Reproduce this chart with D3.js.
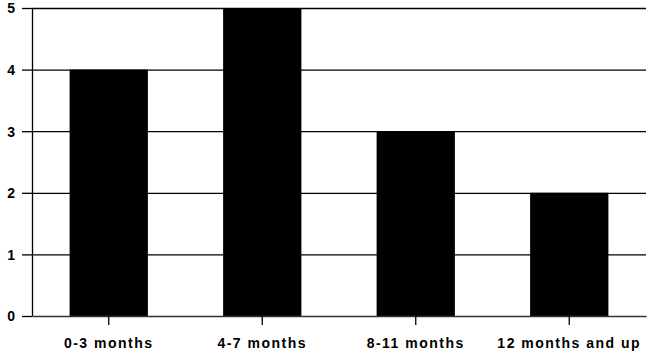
<!DOCTYPE html>
<html>
<head>
<meta charset="utf-8">
<script src="https://cdn.jsdelivr.net/npm/d3@7"></script>
<style>
  body { margin: 0; background: #fff; }
  svg text { font-family: "Liberation Sans", Arial, sans-serif; font-weight: bold; fill: #000; }
</style>
</head>
<body>
<svg id="chart"></svg>
<script>
const categories = ['0-3 months', '4-7 months', '8-11 months', '12 months and up'];
const counts = [4, 5, 3, 2];
const yTicks = [0, 1, 2, 3, 4, 5];

const width = 650, height = 353;
const margin = { top: 8, right: 4, bottom: 37, left: 32 };
const innerW = width - margin.left - margin.right;
const innerH = height - margin.top - margin.bottom;

const svg = d3.select('#chart').attr('width', width).attr('height', height);
const chart = svg.append('g').attr('transform', `translate(${margin.left},${margin.top})`);

const x = d3.scaleBand().domain(categories).range([0, innerW]).paddingInner(0.49).paddingOuter(0.245);
const y = d3.scaleLinear().domain([0, 5]).range([innerH, 0]);

// gridlines
chart.append('g').selectAll('line').data(yTicks.filter(d => d > 0)).enter().append('line')
  .attr('x1', 0).attr('x2', innerW)
  .attr('y1', d => y(d) + 0.5).attr('y2', d => y(d) + 0.5)
  .attr('stroke', '#000').attr('stroke-width', 1.3);

// bars
chart.append('g').selectAll('rect').data(categories).enter().append('rect')
  .attr('x', d => x(d))
  .attr('y', (d, i) => y(counts[i]))
  .attr('width', x.bandwidth())
  .attr('height', (d, i) => innerH - y(counts[i]))
  .attr('fill', '#000');

// y axis
const yAxis = d3.axisLeft(y).tickValues(yTicks).tickFormat(d3.format('d')).tickSize(10).tickSizeOuter(0).tickPadding(7);
const yAxisG = chart.append('g').call(yAxis);
yAxisG.select('.domain').attr('stroke', '#000').attr('stroke-width', 1.3);
yAxisG.selectAll('.tick line').attr('stroke', '#000').attr('stroke-width', 1.3);
yAxisG.selectAll('text').style('font-size', '14px').attr('dy', '0.35em');

// x axis
const xAxis = d3.axisBottom(x).tickSize(9).tickSizeOuter(0).tickPadding(13);
const xAxisG = chart.append('g').attr('transform', `translate(0,${innerH})`).call(xAxis);
xAxisG.select('.domain').attr('stroke', '#333').attr('stroke-width', 1.3);
xAxisG.selectAll('.tick line').attr('stroke', '#000').attr('stroke-width', 1.3);
xAxisG.selectAll('text').style('font-size', '14px').style('letter-spacing', '1.5px');
</script>
</body>
</html>
